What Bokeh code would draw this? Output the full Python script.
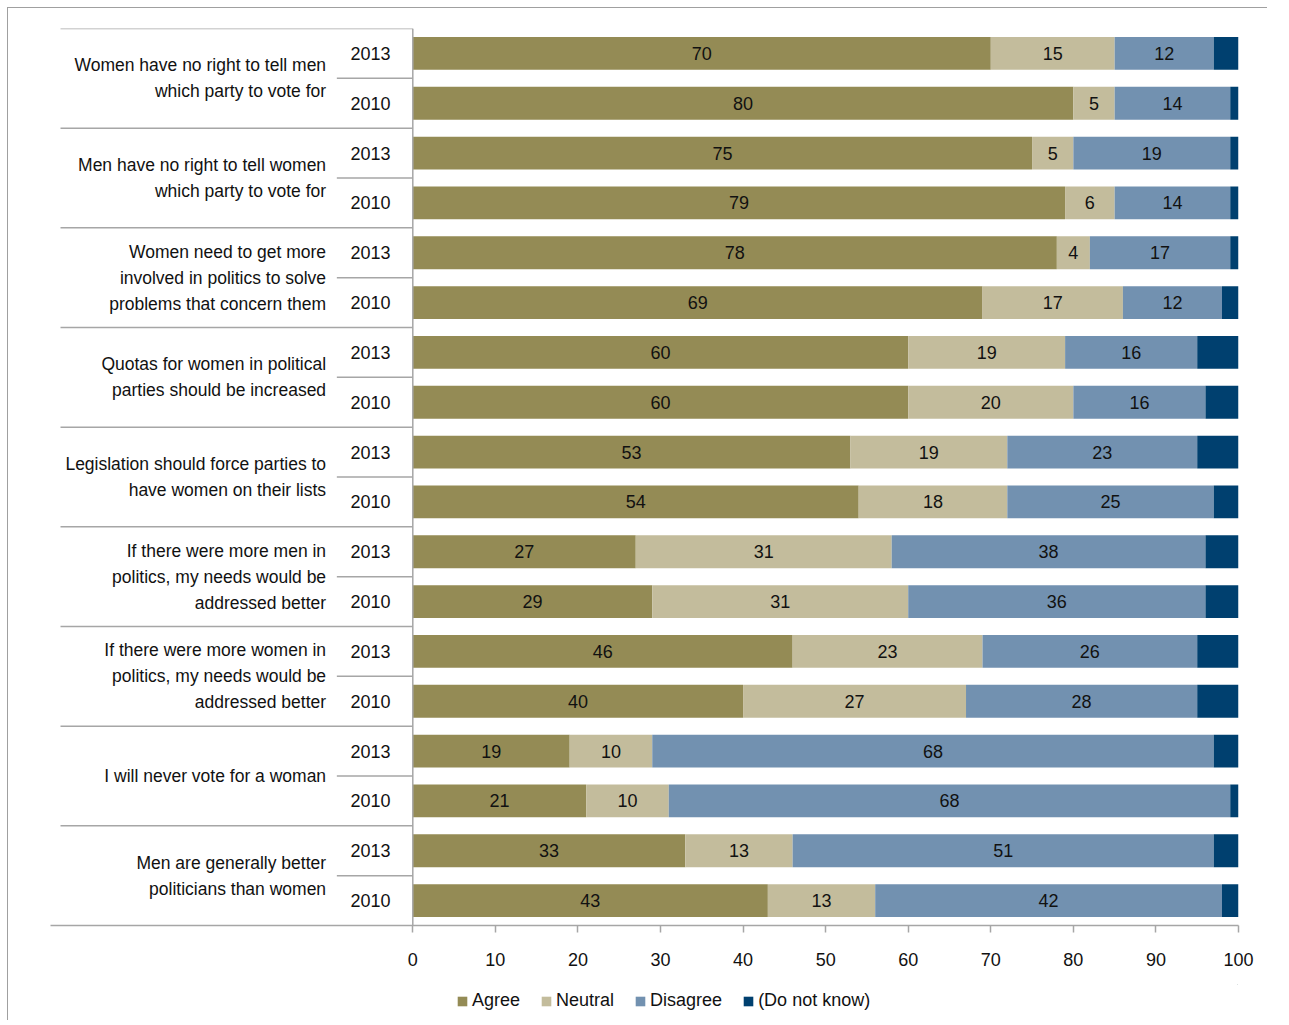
from bokeh.plotting import figure
from bokeh.layouts import column
from bokeh.models import Range1d, ColumnDataSource, FixedTicker, Legend, LegendItem
from bokeh.core.properties import value
from bokeh.embed import file_html
from bokeh.resources import INLINE

questions = [
    "Women have no right to tell men\nwhich party to vote for",
    "Men have no right to tell women\nwhich party to vote for",
    "Women need to get more\ninvolved in politics to solve\nproblems that concern them",
    "Quotas for women in political\nparties should be increased",
    "Legislation should force parties to\nhave women on their lists",
    "If there were more men in\npolitics, my needs would be\naddressed better",
    "If there were more women in\npolitics, my needs would be\naddressed better",
    "I will never vote for a woman",
    "Men are generally better\npoliticians than women",
]
years = ["2013", "2010"]

# one value per bar, top to bottom (each question: 2013 then 2010)
agree = [70, 80, 75, 79, 78, 69, 60, 60, 53, 54, 27, 29, 46, 40, 19, 21, 33, 43]
neutral = [15, 5, 5, 6, 4, 17, 19, 20, 19, 18, 31, 31, 23, 27, 10, 10, 13, 13]
disagree = [12, 14, 19, 14, 17, 12, 16, 16, 23, 25, 38, 36, 26, 28, 68, 68, 51, 42]
dont_know = [3, 1, 1, 1, 1, 2, 5, 4, 5, 3, 4, 4, 5, 5, 3, 1, 3, 2]

series_names = ["Agree", "Neutral", "Disagree", "(Do not know)"]
colors = ["#948B55", "#C3BC9C", "#7291B0", "#00406F"]
x_ticks = [0, 10, 20, 30, 40, 50, 60, 70, 80, 90, 100]

FONT = "Liberation Sans"
LINE = "#A6A6A6"
TXT = "#111111"
PX_PER_UNIT = 8.25
FRAME_LEFT_PAD = 362          # px from frame left to value 0
X_MIN = -FRAME_LEFT_PAD / PX_PER_UNIT
SEP_START = -352 / PX_PER_UNIT
BORDER = "1px solid #A0A0A0"

n = len(agree)
ys = [n - 0.5 - i for i in range(n)]
bar_years = [years[i % 2] for i in range(n)]

src = ColumnDataSource(dict(y=ys, agree=agree, neutral=neutral,
                            disagree=disagree, dk=dont_know))

frame_w = int(FRAME_LEFT_PAD + 100 * PX_PER_UNIT)
p = figure(frame_width=frame_w, frame_height=896,
           x_range=Range1d(X_MIN, 100), y_range=Range1d(0, n),
           output_backend="svg", toolbar_location=None,
           min_border_left=42, min_border_right=30,
           min_border_top=20, min_border_bottom=60)
p.styles = {"border-left": BORDER, "border-top": BORDER,
            "margin-left": "7px", "margin-top": "7px"}

renderers = p.hbar_stack(["agree", "neutral", "disagree", "dk"], y="y",
                         height=0.66, color=colors, line_color=None, source=src)

# value labels centred in segments (first three series)
lx, ly, lt = [], [], []
for i in range(n):
    left = 0
    for vals in (agree, neutral, disagree):
        v = vals[i]
        lx.append(left + v / 2)
        ly.append(ys[i])
        lt.append(str(v))
        left += v
p.text(x=lx, y=ly, text=lt, text_align="center", text_baseline="middle",
       text_font=value(FONT), text_font_size="18px", text_color=TXT)

# year labels
p.text(x=[-2.7] * n, y=ys, text=bar_years, text_align="right",
       text_baseline="middle", text_font=value(FONT), text_font_size="18px",
       text_color=TXT)

# question labels
ng = len(questions)
qy = [n - 1 - 2 * g for g in range(ng)]
p.text(x=[-10.5] * ng, y=qy, text=questions, text_align="right",
       text_baseline="middle", text_font=value(FONT), text_font_size="17.5px",
       text_line_height=1.3, text_color=TXT)

# separators
gy = [n - 2 * g for g in range(ng)]
p.segment(x0=[SEP_START] * ng, x1=[0] * ng, y0=gy, y1=gy, line_color=LINE, line_width=1.5)
yy = [n - 1 - 2 * g for g in range(ng)]
p.segment(x0=[-9.2] * ng, x1=[0] * ng, y0=yy, y1=yy, line_color=LINE, line_width=1.5)
p.segment(x0=[0], x1=[0], y0=[0], y1=[n], line_color=LINE, line_width=1.5)

p.yaxis.visible = False
p.xgrid.visible = False
p.ygrid.visible = False
p.outline_line_color = None

xa = p.xaxis[0]
xa.ticker = FixedTicker(ticks=x_ticks)
xa.axis_line_color = LINE
xa.axis_line_width = 1.5
xa.major_tick_line_color = LINE
xa.major_tick_line_width = 1.5
xa.major_tick_out = 7
xa.major_tick_in = 0
xa.minor_tick_line_color = None
xa.major_label_text_font = FONT
xa.major_label_text_font_size = "18px"
xa.major_label_text_color = TXT
xa.major_label_standoff = 20

# legend strip below the chart (its frame is aligned with the chart frame)
total_w = 42 + frame_w + 30
lg = figure(width=total_w, height=36, x_range=Range1d(0, 1), y_range=Range1d(0, 1),
            output_backend="svg", toolbar_location=None,
            min_border_left=0, min_border_right=0, min_border_top=0, min_border_bottom=0)
lg.styles = {"border-left": BORDER, "margin-left": "7px"}
lg.axis.visible = False
lg.xgrid.visible = False
lg.ygrid.visible = False
lg.outline_line_color = None
# zero-height swatch renderers: only their legend glyphs are visible
swatches = [lg.hbar(y=[5], left=[2], right=[3], height=0, fill_color=c,
                    line_color=None) for c in colors]
legend = Legend(items=[LegendItem(label=nm, renderers=[r]) for nm, r in zip(series_names, swatches)],
                orientation="horizontal", location=(406, 9),
                glyph_width=12, glyph_height=12, label_standoff=4, spacing=20,
                label_text_font=FONT, label_text_font_size="18px",
                label_text_color=TXT, border_line_color=None,
                padding=0, margin=0, background_fill_alpha=0)
lg.add_layout(legend, "center")

layout = column(p, lg, spacing=0)
open("out.html", "w").write(file_html(layout, INLINE))
